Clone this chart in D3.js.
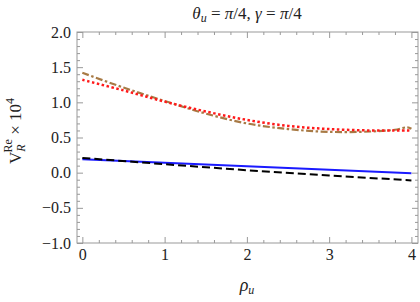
<!DOCTYPE html>
<html>
<head>
<meta charset="utf-8">
<script src="https://cdn.jsdelivr.net/npm/d3@7"></script>
<style>
  body { margin: 0; background: #fff; }
</style>
</head>
<body>
<div id="content"></div>
<script>
// curve samples
const rho = [0, 0.5, 1, 1.5, 2, 2.5, 3, 3.5, 3.8, 3.95, 4];
const brownVals = [1.42, 1.21, 1.02, 0.84, 0.70, 0.62, 0.58, 0.585, 0.61, 0.645, 0.625];
const redVals = [1.32, 1.17, 1.01, 0.87, 0.75, 0.665, 0.62, 0.60, 0.60, 0.60, 0.595];
const lineRho = [0, 1, 2, 3, 4];
const blueVals = [0.19, 0.14, 0.09, 0.04, -0.01];
const blackVals = [0.21, 0.12, 0.035, -0.04, -0.11];
const xTicks = [0, 1, 2, 3, 4];
const yTicks = [-1.0, -0.5, 0.0, 0.5, 1.0, 1.5, 2.0];

const serif = 'serif';

let margin = {top: 32, right: 2, bottom: 59, left: 77};
let width = 420 - margin.left - margin.right;
let height = 302 - margin.top - margin.bottom;

let svg = d3.select('#content')
            .append('svg')
            .attr('width', 420)
            .attr('height', 302)
            .attr('font-family', serif);

let g = svg.append('g')
           .attr('transform', 'translate(' + margin.left + ',' + margin.top + ')');

let x = d3.scaleLinear().domain([-0.065, 4.08]).range([0, width]);
let y = d3.scaleLinear().domain([-1, 2]).range([height, 0]);

// frame
g.append('rect')
 .attr('width', width).attr('height', height)
 .attr('fill', 'none').attr('stroke', '#999').attr('stroke-width', 1);

// ticks (inward on all sides)
const xMinor = d3.range(0, 4.01, 0.2).filter(v => Math.abs(v - Math.round(v)) > 1e-6);
const yMinor = d3.range(-1, 2.001, 0.1).filter(v => Math.abs(v * 2 - Math.round(v * 2)) > 1e-6);
const tickCol = '#999';

function addTicks(axisFn, scale, major, minor, transform, labels) {
  let a = g.append('g').attr('transform', transform)
    .call(axisFn(scale).tickValues(major).tickSize(-6).tickPadding(labels ? 6 : 0)
      .tickFormat(labels ? labels : () => ''));
  a.attr('font-family', null).attr('font-size', 16);
  a.select('.domain').remove();
  a.selectAll('line').attr('stroke', tickCol);
  a.selectAll('text').attr('fill', '#222');
  let b = g.append('g').attr('transform', transform)
    .call(axisFn(scale).tickValues(minor).tickSize(-3).tickFormat(() => ''));
  b.select('.domain').remove();
  b.selectAll('line').attr('stroke', tickCol);
  return a;
}

addTicks(d3.axisBottom, x, xTicks, xMinor, 'translate(0,' + height + ')', d => d3.format('d')(d));
addTicks(d3.axisTop, x, xTicks, xMinor, 'translate(0,0)', null);
addTicks(d3.axisLeft, y, yTicks, yMinor, 'translate(0,0)',
  d => (d < 0 ? '\u2212' : '') + d3.format('.1f')(Math.abs(d)));
addTicks(d3.axisRight, y, yTicks, yMinor, 'translate(' + width + ',0)', null);

// curves
let line = d3.line().x(d => x(d[0])).y(d => y(d[1]));
let smooth = d3.line().x(d => x(d[0])).y(d => y(d[1])).curve(d3.curveCatmullRom);
let plot = g.append('g');

plot.append('path')
    .datum(lineRho.map((r, i) => [r, blueVals[i]]))
    .attr('d', line).attr('fill', 'none')
    .attr('stroke', '#1a1aff').attr('stroke-width', 2);

plot.append('path')
    .datum(lineRho.map((r, i) => [r, blackVals[i]]))
    .attr('d', line).attr('fill', 'none')
    .attr('stroke', '#000').attr('stroke-width', 2)
    .attr('stroke-dasharray', '8,4');

plot.append('path')
    .datum(rho.map((r, i) => [r, brownVals[i]]))
    .attr('d', smooth)
    .attr('fill', 'none')
    .attr('stroke', '#a87a45').attr('stroke-width', 2.2)
    .attr('stroke-dasharray', '7,2.5,2.5,2.5');

plot.append('path')
    .datum(rho.map((r, i) => [r, redVals[i]]))
    .attr('d', smooth)
    .attr('fill', 'none')
    .attr('stroke', '#ff1a1a').attr('stroke-width', 2.5)
    .attr('stroke-dasharray', '2.5,2.5');

// title
let title = svg.append('text')
  .attr('x', 247).attr('y', 19)
  .attr('text-anchor', 'middle')
  .attr('fill', '#222')
  .attr('font-size', 17);
title.append('tspan').attr('font-style', 'italic').text('\u03b8');
title.append('tspan').attr('font-style', 'italic').attr('font-size', 12).attr('dy', 3).text('u');
title.append('tspan').attr('dy', -3).text(' = ');
title.append('tspan').attr('font-style', 'italic').text('\u03c0');
title.append('tspan').text('/4, ');
title.append('tspan').attr('font-style', 'italic').text('\u03b3');
title.append('tspan').text(' = ');
title.append('tspan').attr('font-style', 'italic').text('\u03c0');
title.append('tspan').text('/4');

// x label
let xl = svg.append('text')
  .attr('x', 247).attr('y', 291)
  .attr('text-anchor', 'middle')
  .attr('fill', '#222')
  .attr('font-size', 18);
xl.append('tspan').attr('font-style', 'italic').text('\u03c1');
xl.append('tspan').attr('font-style', 'italic').attr('font-size', 12).attr('dy', 3).text('u');

// y label
let yl = svg.append('text')
  .attr('transform', 'translate(21,131) rotate(-90)')
  .attr('text-anchor', 'middle')
  .attr('fill', '#222')
  .attr('font-size', 17);
yl.append('tspan').text('V');
yl.append('tspan').attr('font-style', 'italic').attr('font-size', 12).attr('dy', 4).text('R');
yl.append('tspan').attr('font-size', 12).attr('dx', -8).attr('dy', -13).text('Re');
yl.append('tspan').attr('dy', 9).text(' \u00d7 10');
yl.append('tspan').attr('font-size', 12).attr('dy', -7).text('4');
</script>
</body>
</html>
